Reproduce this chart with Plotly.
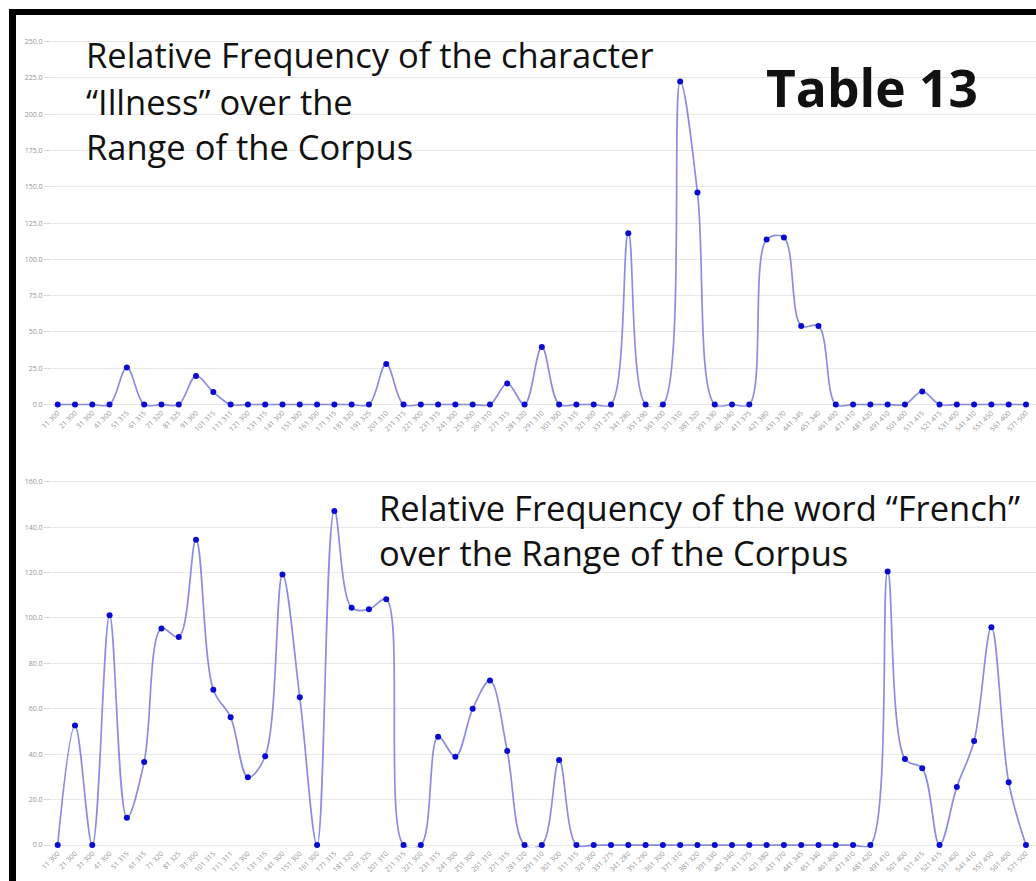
import plotly.graph_objects as go

# ---- data ----
corpus_ranges = [
    "11 300", "21 300", "31 300", "41 300", "51 315", "61 315", "71 320", "81 325",
    "91 300", "101 315", "111 311", "121 300", "131 315", "141 300", "151 300", "161 300",
    "171 315", "181 320", "191 325", "201 310", "211 315", "221 300", "231 315", "241 300",
    "251 300", "261 310", "271 315", "281 320", "291 310", "301 300", "311 315", "321 300",
    "331 275", "341 280", "351 290", "361 300", "371 310", "381 320", "391 330", "401 340",
    "411 375", "421 380", "431 370", "441 345", "451 340", "461 400", "471 410", "481 420",
    "491 410", "501 400", "511 415", "521 415", "531 400", "541 410", "551 450", "561 400",
    "571 500",
]

illness_freq = [
    0, 0, 0, 0, 25.5, 0, 0, 0, 19.7, 8.6,
    0, 0, 0, 0, 0, 0, 0, 0, 0, 28.0,
    0, 0, 0, 0, 0, 0, 14.5, 0, 39.7, 0,
    0, 0, 0, 118.0, 0, 0, 222.6, 146.0, 0, 0,
    0, 113.7, 115.1, 54.1, 54.1, 0, 0, 0, 0, 0,
    9.0, 0, 0, 0, 0, 0, 0,
]

french_freq = [
    0, 52.6, 0, 101.2, 12.0, 36.6, 95.3, 91.6, 134.4, 68.4,
    56.3, 29.8, 39.1, 119.1, 65.1, 0, 147.1, 104.5, 103.8, 108.2,
    0, 0, 47.7, 38.9, 60.0, 72.4, 41.4, 0, 0, 37.4,
    0, 0, 0, 0, 0, 0, 0, 0, 0, 0,
    0, 0, 0, 0, 0, 0, 0, 0, 120.4, 37.9,
    33.8, 0, 25.6, 45.8, 95.9, 27.6, 0,
]

illness_ticks = [0, 25, 50, 75, 100, 125, 150, 175, 200, 225, 250]
french_ticks = [0, 20, 40, 60, 80, 100, 120, 140, 160]

# ---- layout helpers (pixel -> paper) ----
W, H = 1036, 881
ML = 52
PW = W - ML


def px(x):
    return (x - ML) / PW


def py(y):
    return (H - y) / H


positions = list(range(len(corpus_ranges)))
line_style = dict(color="rgba(95,95,215,0.72)", width=1.7, shape="spline", smoothing=1.0)
marker_style = dict(color="#0a0ad0", size=6)

fig = go.Figure()
fig.add_trace(go.Scatter(x=positions, y=illness_freq, mode="lines+markers",
                         line=line_style, marker=marker_style, xaxis="x", yaxis="y",
                         showlegend=False, cliponaxis=False))
fig.add_trace(go.Scatter(x=positions, y=french_freq, mode="lines+markers",
                         line=line_style, marker=marker_style, xaxis="x2", yaxis="y2",
                         showlegend=False, cliponaxis=False))

xrange = [-0.33, 56.58]
common_x = dict(range=xrange, tickmode="array", tickvals=positions, ticktext=corpus_ranges,
                tickangle=-45, tickfont=dict(size=7, color="#959595", family="Open Sans"),
                showgrid=False, zeroline=False, showline=False, ticks="", automargin=False)
common_y = dict(tickformat=".1f", tickfont=dict(size=7, color="#959595", family="Open Sans"),
                showgrid=True, gridcolor="#e8e8e8", gridwidth=1, zeroline=False,
                showline=False, ticks="outside", ticklen=7, tickcolor="#dddddd",
                automargin=False)

fig.update_layout(
    width=W, height=H,
    margin=dict(l=ML, r=0, t=0, b=0),
    paper_bgcolor="white", plot_bgcolor="white",
    template="none",
    xaxis=dict(common_x, domain=[0, 1], anchor="y"),
    yaxis=dict(common_y, domain=[py(406.7), py(19.9)], range=[-1.5, 265],
               tickvals=illness_ticks, anchor="x"),
    xaxis2=dict(common_x, domain=[0, 1], anchor="y2"),
    yaxis2=dict(common_y, domain=[py(847.3), py(463.5)], range=[-1, 168],
                tickvals=french_ticks, anchor="x2"),
)

# black frame of the pasted panels
fig.add_shape(type="rect", xref="paper", yref="paper",
              x0=px(9), x1=px(16), y0=py(881), y1=py(9),
              fillcolor="black", line=dict(width=0), layer="above")
fig.add_shape(type="rect", xref="paper", yref="paper",
              x0=px(9), x1=px(1036), y0=py(15), y1=py(9),
              fillcolor="black", line=dict(width=0), layer="above")

tfont = dict(family="Open Sans", size=34.5, color="#111111")
for text, x, y in [
    ("Relative Frequency of the character", 84, 55),
    ("“Illness” over the", 84, 101),
    ("Range of the Corpus", 84, 146),
    ("Relative Frequency of the word “French”", 377, 507),
    ("over the Range of the Corpus", 377, 552),
]:
    fig.add_annotation(text=text, xref="paper", yref="paper", x=px(x), y=py(y),
                       xanchor="left", yanchor="middle", showarrow=False, font=tfont)

fig.add_annotation(text="<b>Table 13</b>", xref="paper", yref="paper", x=px(764), y=py(87),
                   xanchor="left", yanchor="middle", showarrow=False,
                   font=dict(family="Open Sans", size=51.5, color="#111111"))

fig.write_html("out.html",
               config={"displayModeBar": False},
               post_script=["document.body.style.margin='0';"
                            "document.body.style.overflow='hidden';"])
